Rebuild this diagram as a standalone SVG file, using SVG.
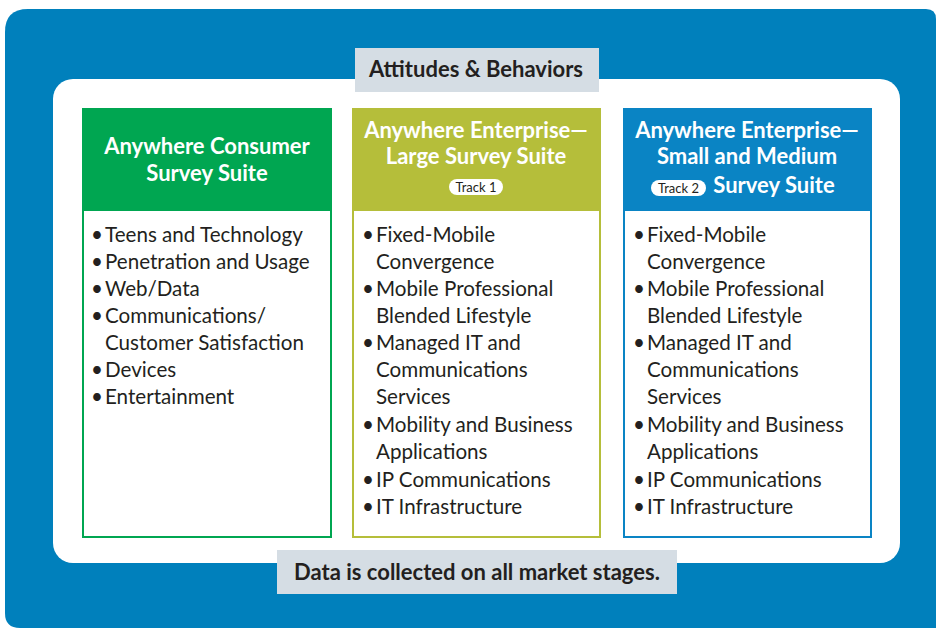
<svg xmlns="http://www.w3.org/2000/svg" width="936" height="628" viewBox="0 0 936 628">
<style>
.hd{font-family:Lato,"Open Sans","Liberation Sans",sans-serif;font-weight:bold;font-size:22px;fill:#fff;text-anchor:middle}
.bd{font-family:Lato,"Open Sans","Liberation Sans",sans-serif;font-size:20.6px;fill:#231f20}
.lb{font-family:Lato,"Open Sans","Liberation Sans",sans-serif;font-weight:bold;font-size:22px;fill:#231f20;text-anchor:middle}
.pill{fill:#fff}
.pt{font-family:Lato,"Open Sans","Liberation Sans",sans-serif;font-size:13px;fill:#231f20;text-anchor:middle}
</style>
<rect width="936" height="628" fill="#fff"/>
<path d="M28,9 H926 Q936,9 936,19 V628 H20 Q5,628 5,613 V32 Q5,9 28,9 Z" fill="#0080bc"/>
<rect x="53" y="79" width="847" height="484" rx="20" fill="#fff"/>
<g id="top-label">
<rect x="355" y="48" width="244" height="44" fill="#d5dde4"/>
<text class="lb" x="476" y="77">Attitudes &amp; Behaviors</text>
</g>
<g id="consumer">
<rect x="83" y="109" width="248" height="428" fill="#fff" stroke="#00a651" stroke-width="2"/>
<rect x="82" y="108" width="250" height="103" fill="#00a651"/>
<text class="hd" x="207" y="154">Anywhere Consumer</text>
<text class="hd" x="207" y="181">Survey Suite</text>
<g class="bd">
<text x="91" y="242">•</text><text x="105" y="242">Teens and Technology</text>
<text x="91" y="269">•</text><text x="105" y="269">Penetration and Usage</text>
<text x="91" y="296">•</text><text x="105" y="296">Web/Data</text>
<text x="91" y="323">•</text><text x="105" y="323">Communications/</text>
<text x="105" y="350">Customer Satisfaction</text>
<text x="91" y="377">•</text><text x="105" y="377">Devices</text>
<text x="91" y="404">•</text><text x="105" y="404">Entertainment</text>
</g>
</g>
<g id="enterprise-large">
<rect x="353" y="109" width="247" height="428" fill="#fff" stroke="#b5be3a" stroke-width="2"/>
<rect x="352" y="108" width="249" height="103" fill="#b5be3a"/>
<text class="hd" x="476" y="138">Anywhere Enterprise—</text>
<text class="hd" x="476" y="164">Large Survey Suite</text>
<rect class="pill" x="449" y="179" width="54" height="16" rx="8"/>
<text class="pt" x="476" y="192">Track 1</text>
<g class="bd">
<text x="362" y="242">•</text><text x="376" y="242">Fixed-Mobile</text>
<text x="376" y="269">Convergence</text>
<text x="362" y="296">•</text><text x="376" y="296">Mobile Professional</text>
<text x="376" y="323">Blended Lifestyle</text>
<text x="362" y="350">•</text><text x="376" y="350">Managed IT and</text>
<text x="376" y="377">Communications</text>
<text x="376" y="404">Services</text>
<text x="362" y="432">•</text><text x="376" y="432">Mobility and Business</text>
<text x="376" y="459">Applications</text>
<text x="362" y="487">•</text><text x="376" y="487">IP Communications</text>
<text x="362" y="514">•</text><text x="376" y="514">IT Infrastructure</text>
</g>
</g>
<g id="enterprise-small-medium">
<rect x="624" y="109" width="247" height="428" fill="#fff" stroke="#0a84c4" stroke-width="2"/>
<rect x="623" y="108" width="249" height="103" fill="#0a84c4"/>
<text class="hd" x="747" y="138">Anywhere Enterprise—</text>
<text class="hd" x="747" y="164">Small and Medium</text>
<rect class="pill" x="651" y="180" width="55" height="16" rx="8"/>
<text class="pt" x="678.5" y="193">Track 2</text>
<text class="hd" x="774" y="193">Survey Suite</text>
<g class="bd">
<text x="633" y="242">•</text><text x="647" y="242">Fixed-Mobile</text>
<text x="647" y="269">Convergence</text>
<text x="633" y="296">•</text><text x="647" y="296">Mobile Professional</text>
<text x="647" y="323">Blended Lifestyle</text>
<text x="633" y="350">•</text><text x="647" y="350">Managed IT and</text>
<text x="647" y="377">Communications</text>
<text x="647" y="404">Services</text>
<text x="633" y="432">•</text><text x="647" y="432">Mobility and Business</text>
<text x="647" y="459">Applications</text>
<text x="633" y="487">•</text><text x="647" y="487">IP Communications</text>
<text x="633" y="514">•</text><text x="647" y="514">IT Infrastructure</text>
</g>
</g>
<g id="bottom-label">
<rect x="277" y="550" width="400" height="44" fill="#d5dde4"/>
<text class="lb" x="477" y="580">Data is collected on all market stages.</text>
</g>
<g id="connectors"/>
</svg>
